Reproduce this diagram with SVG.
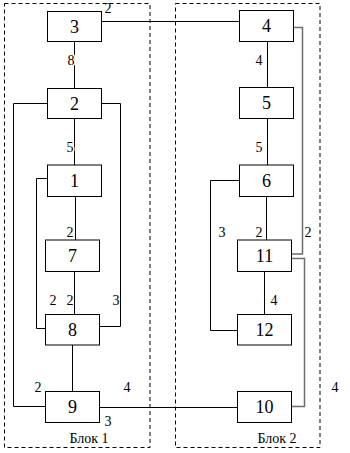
<svg xmlns="http://www.w3.org/2000/svg" width="350" height="453" viewBox="0 0 350 453">
<style>
.bx{fill:#fff;stroke:#000;stroke-width:1}
.n{font-family:"Liberation Serif","Times New Roman",serif;font-size:18px;text-anchor:middle;fill:#000}
.l{font-family:"Liberation Serif","Times New Roman",serif;font-size:14px;text-anchor:middle;fill:#000}
.h{stroke:#fff;stroke-width:3;paint-order:stroke}
.c{fill:none;stroke:#000;stroke-width:1}
.g{fill:none;stroke:#6e6e6e;stroke-width:1.5}
.d{fill:none;stroke:#000;stroke-width:1;stroke-dasharray:4 3}
</style>
<rect width="350" height="453" fill="#fff"/>
<g id="block1"><rect class="d" x="4.5" y="3.5" width="145.5" height="444"/><text class="l" x="89" y="443">Блок 1</text></g>
<g id="block2"><rect class="d" x="175.5" y="3.5" width="144.5" height="444"/><text class="l" x="277" y="443">Блок 2</text></g>
<g id="connectors">
<path class="c" d="M101.5 21.5H239.5"/>
<path class="c" d="M74.5 41.5V88.5"/>
<path class="c" d="M47.5 103.5H13.5V406.5H45.5"/>
<path class="c" d="M101.5 103.5H120.5V326.5H99.5"/>
<path class="c" d="M74.5 118.5V165"/>
<path class="c" d="M47.5 178.5H36.5V328.5H45.5"/>
<path class="c" d="M75.5 196.5V240"/>
<path class="c" d="M74.5 271.5V314.5"/>
<path class="c" d="M72.5 345V391.5"/>
<path class="c" d="M99.5 407.5H237.5"/>
<path class="c" d="M267.5 41.5V87.5"/>
<path class="c" d="M267.5 118.5V165"/>
<path class="g" d="M293.5 27.5H302.5V254H291.5"/>
<path class="c" d="M239.5 180.5H210.5V330.5H237.5"/>
<path class="c" d="M266.5 196.5V240"/>
<path class="g" d="M291.5 258.5H304.5V406.5H291.5"/>
<path class="c" d="M264.5 271.5V314.5"/>
<text class="l" x="108" y="13">2</text>
<text class="l h" x="71" y="65">8</text>
<text class="l h" x="70" y="152">5</text>
<text class="l" x="70" y="237">2</text>
<text class="l" x="53" y="305">2</text>
<text class="l" x="70" y="305">2</text>
<text class="l" x="116" y="305">3</text>
<text class="l" x="38" y="392">2</text>
<text class="l" x="127" y="392">4</text>
<text class="l" x="108" y="426">3</text>
<text class="l" x="259" y="65">4</text>
<text class="l" x="259" y="152">5</text>
<text class="l" x="222" y="237">3</text>
<text class="l" x="259" y="237">2</text>
<text class="l" x="308" y="237">2</text>
<text class="l" x="274" y="305">4</text>
<text class="l" x="335" y="392">4</text>
</g>
<g id="n3"><rect class="bx" x="47.5" y="11.5" width="54" height="30"/><text class="n" x="74.5" y="33">3</text></g>
<g id="n2"><rect class="bx" x="47.5" y="88.5" width="54" height="30"/><text class="n" x="74.5" y="110">2</text></g>
<g id="n1"><rect class="bx" x="47.5" y="165" width="54" height="31.5"/><text class="n" x="74.5" y="187">1</text></g>
<g id="n7"><rect class="bx" x="45.5" y="240" width="54" height="31.5"/><text class="n" x="72.5" y="262">7</text></g>
<g id="n8"><rect class="bx" x="45.5" y="314.5" width="54" height="30.5"/><text class="n" x="72.5" y="336">8</text></g>
<g id="n9"><rect class="bx" x="45.5" y="391.5" width="54" height="31"/><text class="n" x="72.5" y="413">9</text></g>
<g id="n4"><rect class="bx" x="239.5" y="10.5" width="54" height="31"/><text class="n" x="266.5" y="32">4</text></g>
<g id="n5"><rect class="bx" x="239.5" y="87.5" width="54" height="31"/><text class="n" x="266.5" y="109">5</text></g>
<g id="n6"><rect class="bx" x="239.5" y="165" width="54" height="31.5"/><text class="n" x="266.5" y="187">6</text></g>
<g id="n11"><rect class="bx" x="237.5" y="240" width="54" height="31.5"/><text class="n" x="264.5" y="262">11</text></g>
<g id="n12"><rect class="bx" x="237.5" y="314.5" width="54" height="30.5"/><text class="n" x="264.5" y="336">12</text></g>
<g id="n10"><rect class="bx" x="237.5" y="391.5" width="54" height="31"/><text class="n" x="264.5" y="413">10</text></g>
</svg>
